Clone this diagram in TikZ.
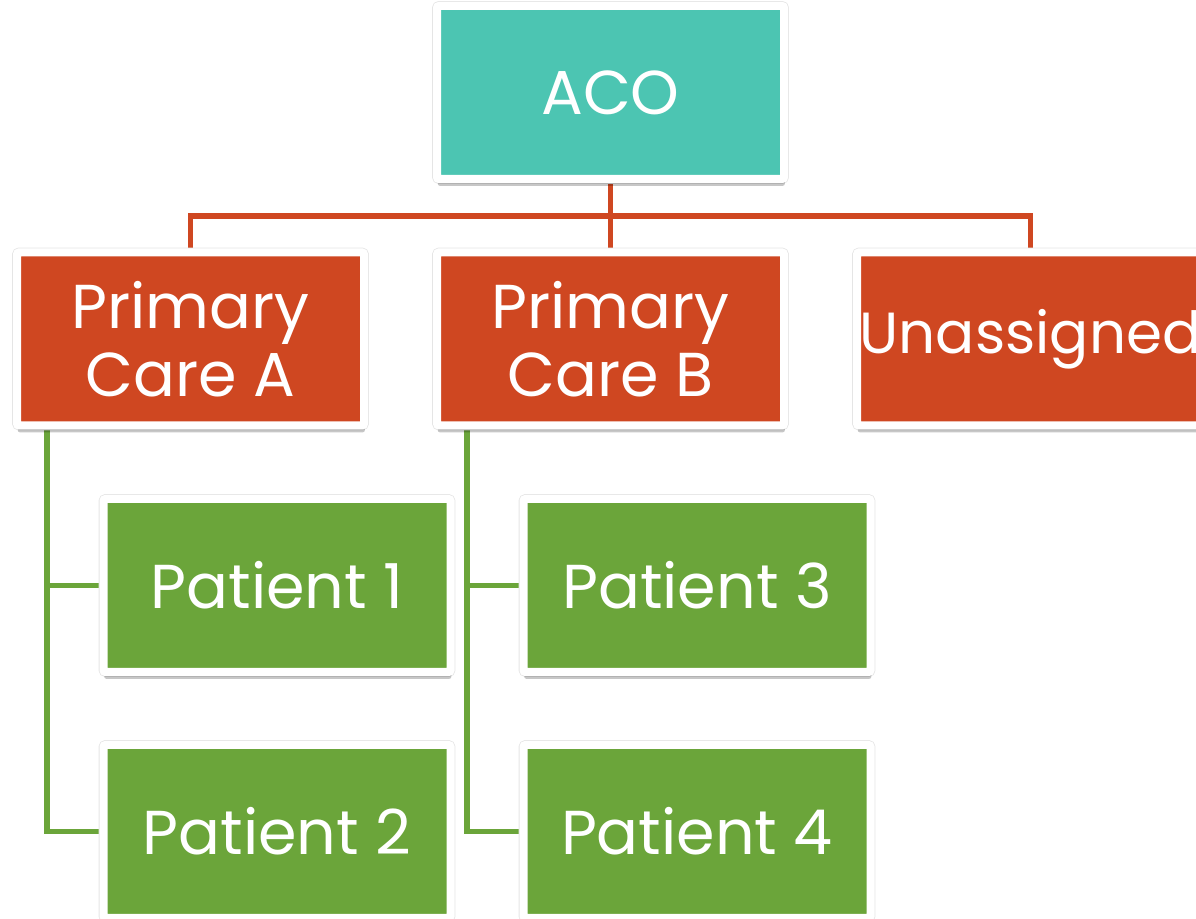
\documentclass[tikz,border=0pt]{standalone}
\usepackage{fontspec}
\setmainfont{Poppins}
\usetikzlibrary{shadows,backgrounds}
\definecolor{acoteal}{RGB}{76,197,178}
\definecolor{pcorange}{RGB}{207,71,33}
\definecolor{ptgreen}{RGB}{107,165,58}
\tikzset{
  box/.style={draw=white, line width=4pt, rounded corners=1pt,
    minimum width=173.5pt, minimum height=86.5pt, inner sep=0pt,
    text=white, align=center,
    font=\fontsize{31}{34}\selectfont,
    preaction={draw=black!10, line width=4.8pt},
    drop shadow={shadow xshift=0.4pt, shadow yshift=-3.4pt, opacity=0.22, fill=black}},
  acobox/.style={box, fill=acoteal},
  pcbox/.style={box, fill=pcorange},
  ptbox/.style={box, fill=ptgreen},
  redline/.style={draw=pcorange, line width=2.8pt},
  greenline/.style={draw=ptgreen, line width=2.6pt}
}
\begin{document}
\begin{tikzpicture}[x=0.5pt,y=-0.5pt]
\useasboundingbox (0,0) rectangle (1196,919);
\begin{scope}
\clip (0,0) rectangle (1196,919);
\node[acobox] (aco) at (610.5,92.5) {ACO};
\node[pcbox] (pca) at (190.5,339) {Primary\\Care A};
\node[pcbox] (pcb) at (610.5,339) {Primary\\Care B};
\node[pcbox, font=\fontsize{29}{34}\selectfont] (un) at (1030.5,339) {Unassigned};
\node[ptbox] (p1) at (277,585.5) {Patient 1};
\node[ptbox] (p2) at (277,831.5) {Patient 2};
\node[ptbox] (p3) at (697,585.5) {Patient 3};
\node[ptbox] (p4) at (697,831.5) {Patient 4};
\coordinate (hub) at (610.5,216);
\coordinate (ga) at ([xshift=17pt]pca.south west);
\coordinate (gb) at ([xshift=17pt]pcb.south west);
\begin{scope}[on background layer]
\draw[redline] (aco.south) -- (hub);
\draw[redline] (hub) -- (pcb.north);
\draw[redline] (pca.north) |- (hub) -| (un.north);
\draw[greenline] (ga) |- (p1.west);
\draw[greenline] (ga) |- (p2.west);
\draw[greenline] (gb) |- (p3.west);
\draw[greenline] (gb) |- (p4.west);
\end{scope}
\end{scope}
\end{tikzpicture}
\end{document}
